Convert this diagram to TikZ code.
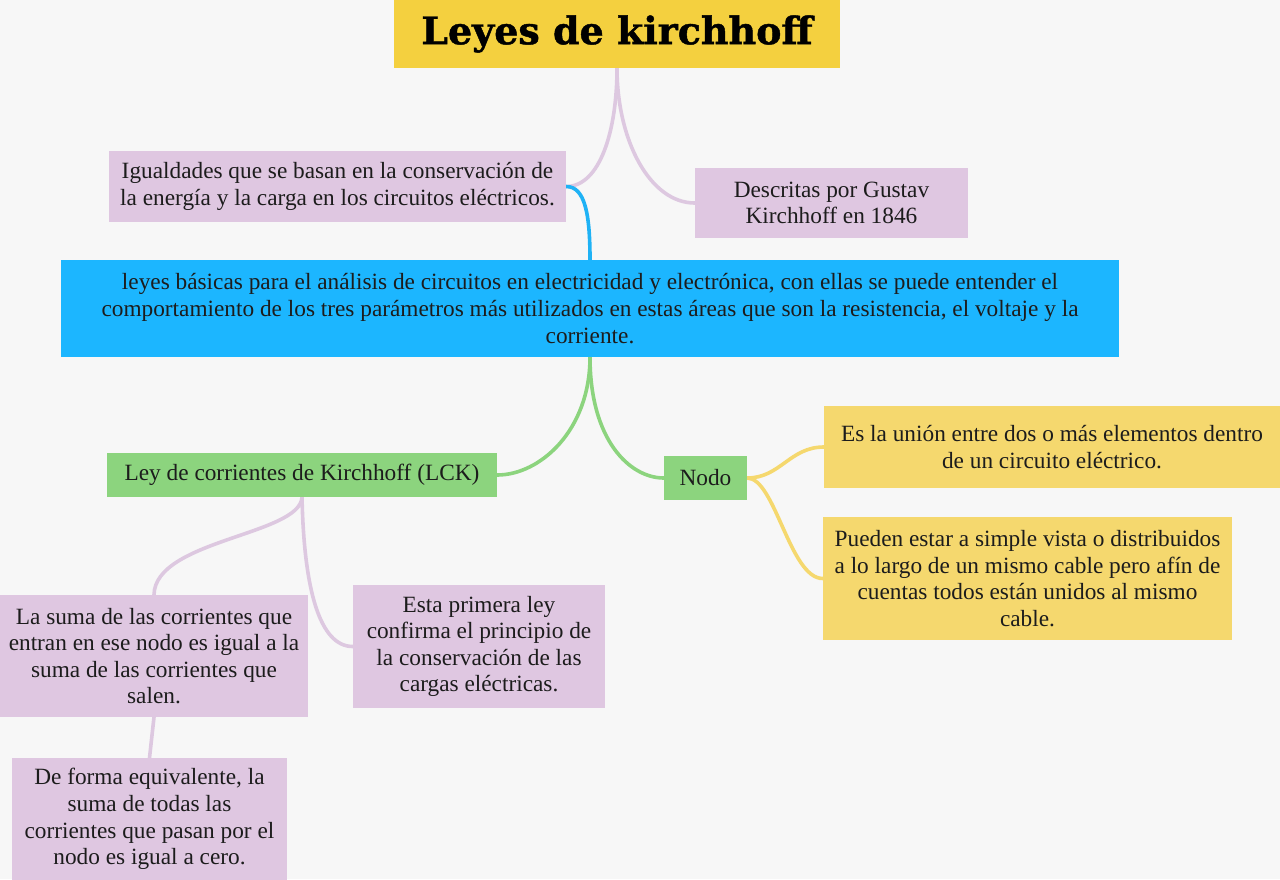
\documentclass[tikz,border=0pt]{standalone}
\usepackage{fontspec}
\setmainfont{Liberation Serif}
\newfontfamily\titlefont{DejaVu Serif}[BoldFeatures={FakeBold=1.2}]
\definecolor{bgc}{HTML}{F7F7F7}
\definecolor{titley}{HTML}{F4D03F}
\definecolor{purp}{HTML}{DFC7E1}
\definecolor{purpl}{HTML}{DDC8E0}
\definecolor{bluec}{HTML}{1CB6FF}
\definecolor{bluel}{HTML}{1FB2F5}
\definecolor{greenc}{HTML}{8CD47E}
\definecolor{yelc}{HTML}{F5D86E}
\definecolor{txt}{HTML}{1C1C1C}
\pgfdeclarelayer{bg}
\pgfsetlayers{bg,main}
\begin{document}
\begin{tikzpicture}[x=1pt,y=-1pt,
  box/.style={inner sep=0pt, align=center, text=txt, font=\fontsize{23.3}{26.6}\selectfont},
  pbox/.style={box, fill=purp},
  gbox/.style={box, fill=greenc},
  ybox/.style={box, fill=yelc},
  conn/.style={line width=3.6pt, line cap=round}
]
\useasboundingbox (0,0) rectangle (1280,879);
\begin{pgfonlayer}{bg}
\fill[bgc] (0,0) rectangle (1280,879);
\end{pgfonlayer}

\node[box, fill=titley, minimum width=446pt, minimum height=68pt,
  font=\titlefont\bfseries\fontsize{38}{42}\selectfont, text=black] (T) at (617,34) {Leyes de kirchhoff};

\node[pbox, minimum width=457pt, minimum height=71pt] (A) at (337.5,186.5)
  {Igualdades que se basan en la conservación de\\la energía y la carga en los circuitos eléctricos.};

\node[pbox, minimum width=273pt, minimum height=70pt] (B) at (831.5,203)
  {Descritas por Gustav\\Kirchhoff en 1846};

\node[box, fill=bluec, minimum width=1058pt, minimum height=97pt] (L) at (590,308.5)
  {leyes básicas para el análisis de circuitos en electricidad y electrónica, con ellas se puede entender el\\comportamiento de los tres parámetros más utilizados en estas áreas que son la resistencia, el voltaje y la\\corriente.};

\node[gbox, minimum width=390pt, minimum height=44pt] (K) at (302,475)
  {Ley de corrientes de Kirchhoff (LCK)};

\node[gbox, minimum width=83pt, minimum height=44pt] (N) at (705.5,478) {Nodo};

\node[ybox, minimum width=456pt, minimum height=82pt] (Y1) at (1052,447)
  {Es la unión entre dos o más elementos dentro\\de un circuito eléctrico.};

\node[ybox, minimum width=409pt, minimum height=123pt] (Y2) at (1027.5,578.5)
  {Pueden estar a simple vista o distribuidos\\a lo largo de un mismo cable pero afín de\\cuentas todos están unidos al mismo\\cable.};

\node[pbox, minimum width=308pt, minimum height=122pt] (C) at (154,656)
  {La suma de las corrientes que\\entran en ese nodo es igual a la\\suma de las corrientes que\\salen.};

\node[pbox, minimum width=252pt, minimum height=123pt] (D) at (479,646.5)
  {Esta primera ley\\confirma el principio de\\la conservación de las\\cargas eléctricas.};

\node[pbox, minimum width=275pt, minimum height=122pt] (E) at (149.5,819)
  {De forma equivalente, la\\suma de todas las\\corrientes que pasan por el\\nodo es igual a cero.};

\begin{pgfonlayer}{bg}
\draw[conn, purpl] (T.south) .. controls +(0,62) and +(34,0) .. (A.east);
\draw[conn, purpl] (T.south) .. controls +(0,72) and +(-45,0) .. (B.west);
\draw[conn, bluel] (A.east) .. controls +(19,0) and +(0,-45) .. (L.north);
\draw[conn, greenc] (L.south) .. controls +(0,73) and +(43,0) .. (K.east);
\draw[conn, greenc] (L.south) .. controls +(0,83) and +(-34,0) .. (N.west);
\draw[conn, purpl] (K.south) .. controls +(-2,38) and +(1,-55) .. (C.north);
\draw[conn, purpl] (K.south) .. controls +(2,93) and +(-33,0) .. (D.west);
\draw[conn, purpl] (C.south) -- (E.north);
\draw[conn, yelc] (N.east) .. controls +(33,0) and +(-34,0) .. (Y1.west);
\draw[conn, yelc] (N.east) .. controls +(28,0) and +(-33,0) .. (Y2.west);
\end{pgfonlayer}
\end{tikzpicture}
\end{document}
